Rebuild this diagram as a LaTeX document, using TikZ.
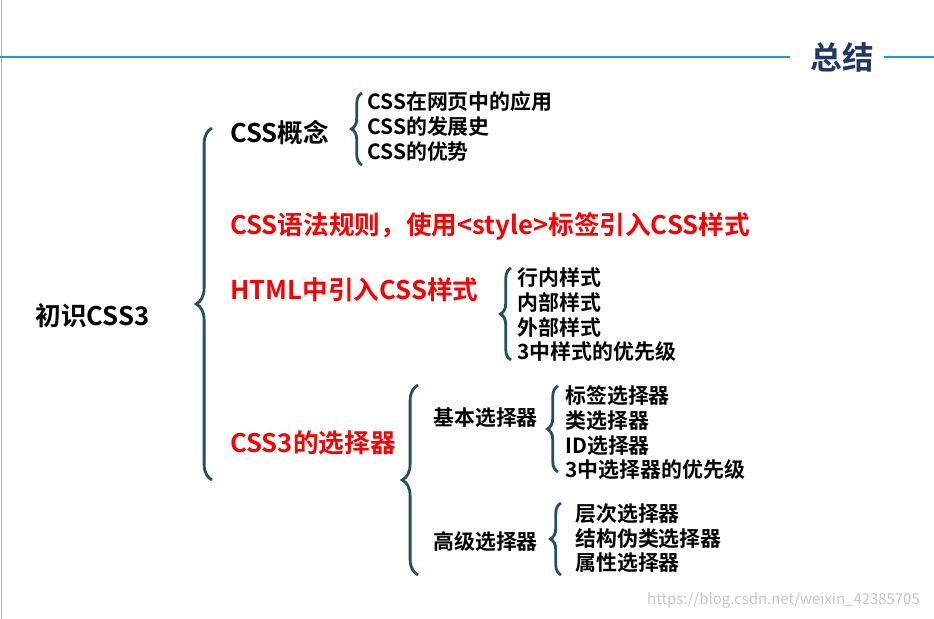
\documentclass[tikz,border=0pt]{standalone}
\usepackage{fontspec}
\setmainfont{Noto Sans CJK SC}[BoldFont=Noto Sans CJK SC Bold]
\usetikzlibrary{decorations.pathreplacing}
\definecolor{bracecol}{HTML}{1F5166}
\definecolor{headblue}{HTML}{1E9BD7}
\definecolor{titlecol}{HTML}{1F3864}
\tikzset{
  brc/.style={draw=bracecol,line width=1.6pt,decorate,decoration={brace,amplitude=9pt}},
  main/.style={anchor=west,font=\bfseries\fontsize{14.6}{16}\selectfont,inner sep=0pt},
  sub/.style={anchor=west,font=\bfseries\fontsize{11.9}{13}\selectfont,inner sep=0pt},
  redtxt/.style={main,text=red}
}
\begin{document}
\begin{tikzpicture}[x=0.02cm,y=-0.02cm]
\useasboundingbox (0,0) rectangle (934,619);
% header
\draw[gray!60] (1,0) -- (1,619);
\draw[headblue,line width=1.2pt] (0,57) -- (790,57);
\draw[headblue,line width=1.2pt] (884,57) -- (934,57);
\node[font=\bfseries\fontsize{18}{20}\selectfont,text=titlecol] (title) at (842,57) {总结};
% root
\node[main] (root) at (35,316) {初识CSS3};
\draw[brc] (212,480) -- (212,128);
% CSS concept
\node[main] (concept) at (230,133) {CSS概念};
\draw[brc,decoration={amplitude=6pt}] (362,165) -- (362,93);
\node[sub] (c1) at (367,102) {CSS在网页中的应用};
\node[sub] (c2) at (367,127) {CSS的发展史};
\node[sub] (c3) at (367,152) {CSS的优势};
% syntax
\node[redtxt] (syntax) at (230,226) {CSS语法规则，使用<style>标签引入CSS样式};
% html
\node[redtxt] (html) at (230,290) {HTML中引入CSS样式};
\draw[brc,decoration={amplitude=6pt}] (511,360) -- (511,268);
\node[sub] (h1) at (517,278) {行内样式};
\node[sub] (h2) at (517,302) {内部样式};
\node[sub] (h3) at (517,327) {外部样式};
\node[sub] (h4) at (517,352) {3中样式的优先级};
% selectors
\node[redtxt] (sel) at (230,443) {CSS3的选择器};
\draw[brc] (418,575) -- (418,385);
\node[sub] (basic) at (433,418) {基本选择器};
\draw[brc,decoration={amplitude=6pt}] (558,472) -- (558,386);
\node[sub] (b1) at (565,396) {标签选择器};
\node[sub] (b2) at (565,421) {类选择器};
\node[sub] (b3) at (565,446) {ID选择器};
\node[sub] (b4) at (565,470) {3中选择器的优先级};
\node[sub] (adv) at (433,542) {高级选择器};
\draw[brc,decoration={amplitude=6pt}] (561,575) -- (561,503);
\node[sub] (a1) at (575,514) {层次选择器};
\node[sub] (a2) at (575,539) {结构伪类选择器};
\node[sub] (a3) at (575,563) {属性选择器};
% watermark
\node[anchor=east,text=gray!45,font=\fontsize{8.5}{10}\selectfont] (mark) at (926,600) {https://blog.csdn.net/weixin\_42385705};
\end{tikzpicture}
\end{document}
